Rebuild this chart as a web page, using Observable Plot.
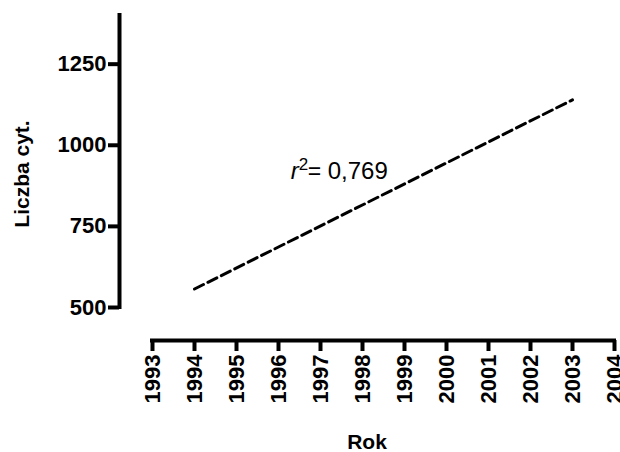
<!DOCTYPE html>
<html>
<head>
<meta charset="utf-8">
<script src="https://cdn.jsdelivr.net/npm/d3@7"></script>
<script src="https://cdn.jsdelivr.net/npm/@observablehq/plot@0.6"></script>
<style>
  html, body { margin: 0; padding: 0; background: #fff; }
</style>
</head>
<body>
<div id="chart"></div>
<script>
// Data
const years = [1993, 1994, 1995, 1996, 1997, 1998, 1999, 2000, 2001, 2002, 2003, 2004];
const yTicks = [500, 750, 1000, 1250];
const xDomain = [1993, 2004];
const yDomain = [500, 1400];
const fitYears = [1994, 2003];
const fitValues = [557, 1140];
const xLabel = "Rok";
const yLabel = "Liczba cyt.";
const annoX = [1996.29];
const annoY = [897];
const annoParts = ["r", "2", "=", "0,769"];

const fit = fitYears.map((x, i) => ({x, y: fitValues[i]}));
const anno = [{x: annoX[0], y: annoY[0]}];
const font = "Liberation Sans, Arial, Helvetica, sans-serif";

const chart = Plot.plot({
  width: 620,
  height: 452,
  marginLeft: 119,
  marginRight: 6,
  marginTop: 15,
  marginBottom: 112,
  style: {fontFamily: font, background: "#fff", color: "#000"},
  x: {domain: xDomain, insetLeft: 33},
  y: {domain: yDomain, insetBottom: 33},
  marks: [
    // axis lines
    Plot.ruleX([xDomain[0]], {y1: yDomain[0], y2: yDomain[1], dx: -33, strokeWidth: 4, stroke: "#000", strokeLinecap: "square"}),
    Plot.ruleY([yDomain[0]], {x1: xDomain[0], x2: xDomain[1], dy: 33, strokeWidth: 4, stroke: "#000", strokeLinecap: "square"}),
    Plot.axisY({ticks: yTicks, tickSize: 11, tickPadding: 2, strokeWidth: 4, fontSize: 22, fontWeight: "bold", label: null, tickFormat: "d"}),
    Plot.axisX({ticks: years, tickSize: 11, tickPadding: 3, strokeWidth: 4, tickRotate: -90, fontSize: 22, fontWeight: "bold", label: null, tickFormat: "d"}),
    Plot.text([xLabel], {text: d => d, frameAnchor: "bottom", dy: 108, lineAnchor: "bottom", fontSize: 21, fontWeight: "bold"}),
    Plot.text([yLabel], {text: d => d, frameAnchor: "left", dx: -97, dy: -4, rotate: -90, textAnchor: "middle", lineAnchor: "middle", fontSize: 21, fontWeight: "bold"}),
    // regression line
    Plot.line(fit, {x: "x", y: "y", stroke: "#000", strokeWidth: 3, strokeDasharray: "10,5"}),
    // annotation r^2 = 0,769
    Plot.text(anno, {x: "x", y: "y", text: () => annoParts[0], textAnchor: "start", lineAnchor: "bottom", fontSize: 24, fontStyle: "italic"}),
    Plot.text(anno, {x: "x", y: "y", text: () => annoParts[1], textAnchor: "start", lineAnchor: "bottom", fontSize: 17, dx: 8, dy: -9}),
    Plot.text(anno, {x: "x", y: "y", text: () => annoParts[2], textAnchor: "start", lineAnchor: "bottom", fontSize: 23, dx: 17}),
    Plot.text(anno, {x: "x", y: "y", text: () => annoParts[3], textAnchor: "start", lineAnchor: "bottom", fontSize: 24, dx: 37})
  ]
});
document.getElementById("chart").appendChild(chart);
</script>
</body>
</html>
